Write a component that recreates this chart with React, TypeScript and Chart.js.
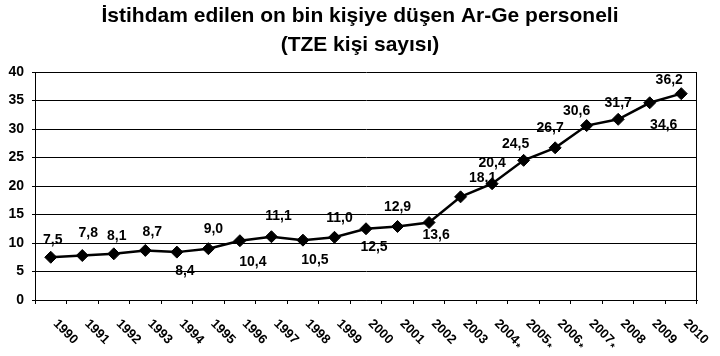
import React, { useEffect, useRef } from 'react';
import { Chart, registerables } from 'chart.js';

Chart.register(...registerables);

const titleLines = ['İstihdam edilen on bin kişiye düşen Ar-Ge personeli', '(TZE kişi sayısı)'];
const years = ['1990', '1991', '1992', '1993', '1994', '1995', '1996', '1997', '1998', '1999', '2000', '2001', '2002', '2003', '2004', '2005', '2006', '2007', '2008', '2009', '2010'];
const yearMarks = ['', '', '', '', '', '', '', '', '', '', '', '', '', '', '*', '*', '*', '*', '', '', ''];
const values = [7.5, 7.8, 8.1, 8.7, 8.4, 9.0, 10.4, 11.1, 10.5, 11.0, 12.5, 12.9, 13.6, 18.1, 20.4, 24.5, 26.7, 30.6, 31.7, 34.6, 36.2];
const valueLabels = ['7,5', '7,8', '8,1', '8,7', '8,4', '9,0', '10,4', '11,1', '10,5', '11,0', '12,5', '12,9', '13,6', '18,1', '20,4', '24,5', '26,7', '30,6', '31,7', '34,6', '36,2'];
const yMin = 0;
const yMax = 40;
const yStep = 5;

// label placement offsets (style only)
const labelDx = [2, 6, 3, 7, 8, 5, 13, 7, 12, 5, 8, 0, 7, 22, 0, -8, -5, -10, 0, 14, -12];
const labelDy = [-17, -22, -18, -18, 19, -20, 21, -21, 20, -19, 18, -19, 13, -19, -21, -16, -20, -14, -16, 22, -14];

const FONT = '"Liberation Sans", Arial, sans-serif';

const overlayPlugin = {
  id: 'overlay',
  afterDraw(chart: any) {
    const ctx = chart.ctx;
    const area = chart.chartArea;
    ctx.save();
    // right border
    ctx.strokeStyle = '#000';
    ctx.lineWidth = 1;
    ctx.beginPath();
    const rx = Math.round(area.right) - 0.5;
    ctx.moveTo(rx, Math.round(area.top));
    ctx.lineTo(rx, Math.round(area.bottom));
    ctx.stroke();

    // title
    ctx.fillStyle = '#000';
    ctx.textAlign = 'center';
    ctx.textBaseline = 'alphabetic';
    ctx.font = `bold 21px ${FONT}`;
    ctx.fillText(titleLines[0], chart.width / 2, 22);
    ctx.fillText(titleLines[1], chart.width / 2, 51);

    // x labels rotated
    const xs = chart.scales.x;
    ctx.font = `bold 13px ${FONT}`;
    ctx.textAlign = 'left';
    ctx.textBaseline = 'top';
    years.forEach((y, i) => {
      const x = xs.getPixelForValue(i);
      ctx.save();
      ctx.translate(x + 9, area.bottom + 17);
      ctx.rotate(Math.PI / 4);
      ctx.fillText(y, 0, 0);
      if (yearMarks[i]) {
        const w = ctx.measureText(y).width;
        ctx.font = `bold 11px ${FONT}`;
        ctx.fillText(yearMarks[i], w + 1, 5);
        ctx.font = `bold 13px ${FONT}`;
      }
      ctx.restore();
    });

    // data labels
    const meta = chart.getDatasetMeta(0);
    ctx.font = `bold 14px ${FONT}`;
    ctx.textAlign = 'center';
    ctx.textBaseline = 'middle';
    meta.data.forEach((pt: any, i: number) => {
      ctx.fillText(valueLabels[i], pt.x + labelDx[i], pt.y + labelDy[i]);
    });
    ctx.restore();
  },
};

export default function App() {
  const ref = useRef<HTMLCanvasElement>(null);
  useEffect(() => {
    if (!ref.current) return;
    const chart = new Chart(ref.current, {
      type: 'line',
      data: {
        labels: years,
        datasets: [
          {
            data: values,
            borderColor: '#000',
            backgroundColor: '#000',
            borderWidth: 2.5,
            pointStyle: 'rectRot',
            pointRadius: 6,
            pointBackgroundColor: '#000',
            pointBorderColor: '#000',
            pointBorderWidth: 1,
            tension: 0,
            clip: false as any,
          },
        ],
      },
      options: {
        animation: false,
        responsive: false,
        layout: { padding: { top: 72, right: 23, left: 0, bottom: 0 } },
        plugins: {
          legend: { display: false },
          title: { display: false },
          tooltip: { enabled: false },
        },
        scales: {
          x: {
            offset: true,
            grid: { offset: true, drawOnChartArea: false, drawTicks: true, tickLength: 4, color: '#000' },
            border: { color: '#000', width: 1 },
            ticks: { display: false },
            afterFit: (s: any) => {
              s.height = 56;
            },
          },
          y: {
            min: yMin,
            max: yMax,
            ticks: { stepSize: yStep, color: '#000', font: { family: FONT, size: 14, weight: 'bold' }, padding: 8 },
            grid: { color: '#000', tickLength: 3 },
            border: { color: '#000', width: 1 },
            afterFit: (s: any) => {
              s.width = 35;
            },
          },
        },
      },
      plugins: [overlayPlugin],
    });
    return () => chart.destroy();
  }, []);
  return (
    <div style={{ position: 'absolute', left: 0, top: 0, width: 720, height: 356, background: '#fff' }}>
      <canvas ref={ref} width={720} height={356} style={{ display: 'block' }} />
    </div>
  );
}
